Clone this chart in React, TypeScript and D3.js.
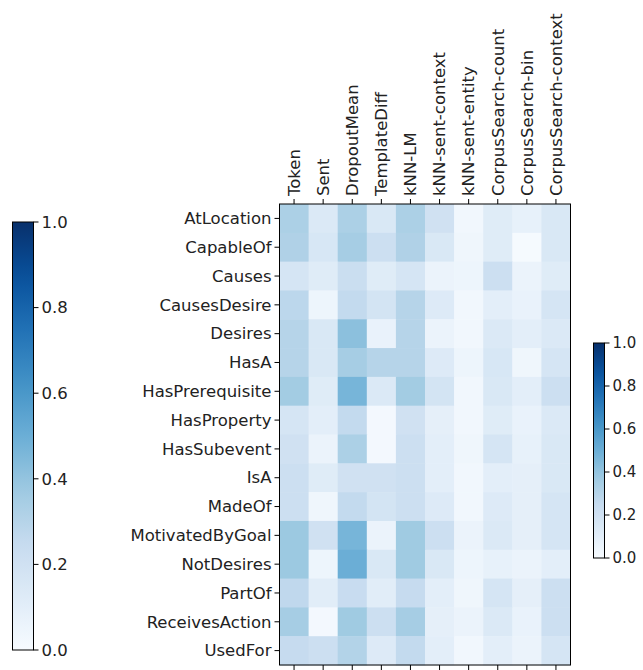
import React from "react";
import * as d3 from "d3";

const rows = ["AtLocation","CapableOf","Causes","CausesDesire","Desires","HasA","HasPrerequisite","HasProperty","HasSubevent","IsA","MadeOf","MotivatedByGoal","NotDesires","PartOf","ReceivesAction","UsedFor"];
const cols = ["Token","Sent","DropoutMean","TemplateDiff","kNN-LM","kNN-sent-context","kNN-sent-entity","CorpusSearch-count","CorpusSearch-bin","CorpusSearch-context"];
const values: number[][] = [
  [0.33,0.14,0.33,0.15,0.33,0.20,0.03,0.12,0.08,0.15],
  [0.32,0.16,0.35,0.22,0.32,0.15,0.04,0.12,0.01,0.15],
  [0.17,0.12,0.23,0.12,0.17,0.06,0.05,0.22,0.06,0.12],
  [0.28,0.05,0.26,0.18,0.30,0.13,0.03,0.10,0.07,0.17],
  [0.30,0.15,0.42,0.07,0.30,0.06,0.03,0.14,0.10,0.14],
  [0.30,0.15,0.35,0.30,0.30,0.13,0.05,0.16,0.04,0.17],
  [0.36,0.12,0.47,0.14,0.36,0.18,0.03,0.15,0.10,0.22],
  [0.17,0.10,0.26,0.02,0.20,0.09,0.03,0.12,0.07,0.14],
  [0.20,0.06,0.33,0.02,0.22,0.10,0.04,0.17,0.08,0.15],
  [0.22,0.12,0.20,0.20,0.22,0.10,0.03,0.10,0.09,0.15],
  [0.22,0.04,0.26,0.18,0.22,0.13,0.03,0.13,0.09,0.17],
  [0.38,0.20,0.47,0.06,0.37,0.22,0.06,0.14,0.09,0.17],
  [0.38,0.05,0.50,0.15,0.37,0.15,0.05,0.08,0.06,0.10],
  [0.27,0.11,0.24,0.11,0.25,0.10,0.04,0.17,0.09,0.22],
  [0.35,0.02,0.37,0.22,0.35,0.09,0.06,0.14,0.07,0.22],
  [0.25,0.22,0.31,0.13,0.26,0.10,0.03,0.10,0.06,0.17],
];
const cbTicks = [0, 0.2, 0.4, 0.6, 0.8, 1.0];

const bluesStops = ["#f7fbff","#deebf7","#c6dbef","#9ecae1","#6baed6","#4292c6","#2171b5","#08519c","#08306b"];
const color = d3.scaleLinear<string>()
  .domain(bluesStops.map((_, i) => i / (bluesStops.length - 1)))
  .range(bluesStops)
  .interpolate(d3.interpolateRgb)
  .clamp(true);

const FONT = "DejaVu Sans, sans-serif";

function Colorbar({ x, y, w, h, fontSize, id }: { x: number; y: number; w: number; h: number; fontSize: number; id: string }) {
  const sc = d3.scaleLinear().domain([0, 1]).range([y + h, y]);
  const stops = d3.range(0, 1.0001, 0.05);
  return (
    <g>
      <defs>
        <linearGradient id={id} x1="0" y1="1" x2="0" y2="0">
          {stops.map((s) => (
            <stop key={s} offset={s} stopColor={color(s)} />
          ))}
        </linearGradient>
      </defs>
      <rect x={x} y={y} width={w} height={h} fill={`url(#${id})`} stroke="#000" strokeWidth={1} />
      {cbTicks.map((t) => (
        <g key={t}>
          <line x1={x + w} x2={x + w + 5} y1={sc(t)} y2={sc(t)} stroke="#000" strokeWidth={1} />
          <text x={x + w + 8} y={sc(t)} dy="0.35em" fontSize={fontSize} fontFamily={FONT} fill="#222">
            {t.toFixed(1)}
          </text>
        </g>
      ))}
    </g>
  );
}

export default function App() {
  const left = 279.5, top = 204, W = 291, H = 461;
  const x = d3.scaleBand().domain(cols).range([left, left + W]);
  const y = d3.scaleBand().domain(rows).range([top, top + H]);
  const fs = 16.5;
  return (
    <svg width={643} height={670} style={{ position: "absolute", left: 0, top: 0, background: "#fff" }}>
      {rows.map((r, i) =>
        cols.map((c, j) => (
          <rect key={r + c} x={x(c)} y={y(r)} width={x.bandwidth() + 0.5} height={y.bandwidth() + 0.5} fill={color(values[i][j])} />
        ))
      )}
      <rect x={left} y={top} width={W} height={H} fill="none" stroke="#000" strokeWidth={1} />
      {cols.map((c) => {
        const cx = (x(c) as number) + x.bandwidth() / 2;
        return (
          <g key={c}>
            <line x1={cx} x2={cx} y1={top} y2={top - 5} stroke="#000" />
            <line x1={cx} x2={cx} y1={top + H} y2={top + H + 5} stroke="#000" />
            <text transform={`translate(${cx},${top - 8}) rotate(-90)`} dy="0.35em" fontSize={fs} fontFamily={FONT} fill="#222">
              {c}
            </text>
          </g>
        );
      })}
      {rows.map((r) => {
        const cy = (y(r) as number) + y.bandwidth() / 2;
        return (
          <g key={r}>
            <line x1={left} x2={left - 5} y1={cy} y2={cy} stroke="#000" />
            <text x={left - 8} y={cy} dy="0.35em" textAnchor="end" fontSize={fs} fontFamily={FONT} fill="#222">
              {r}
            </text>
          </g>
        );
      })}
      <Colorbar id="cbL" x={12.5} y={222} w={21} h={428} fontSize={16.5} />
      <Colorbar id="cbR" x={593.5} y={343} w={11} h={215} fontSize={15} />
    </svg>
  );
}
